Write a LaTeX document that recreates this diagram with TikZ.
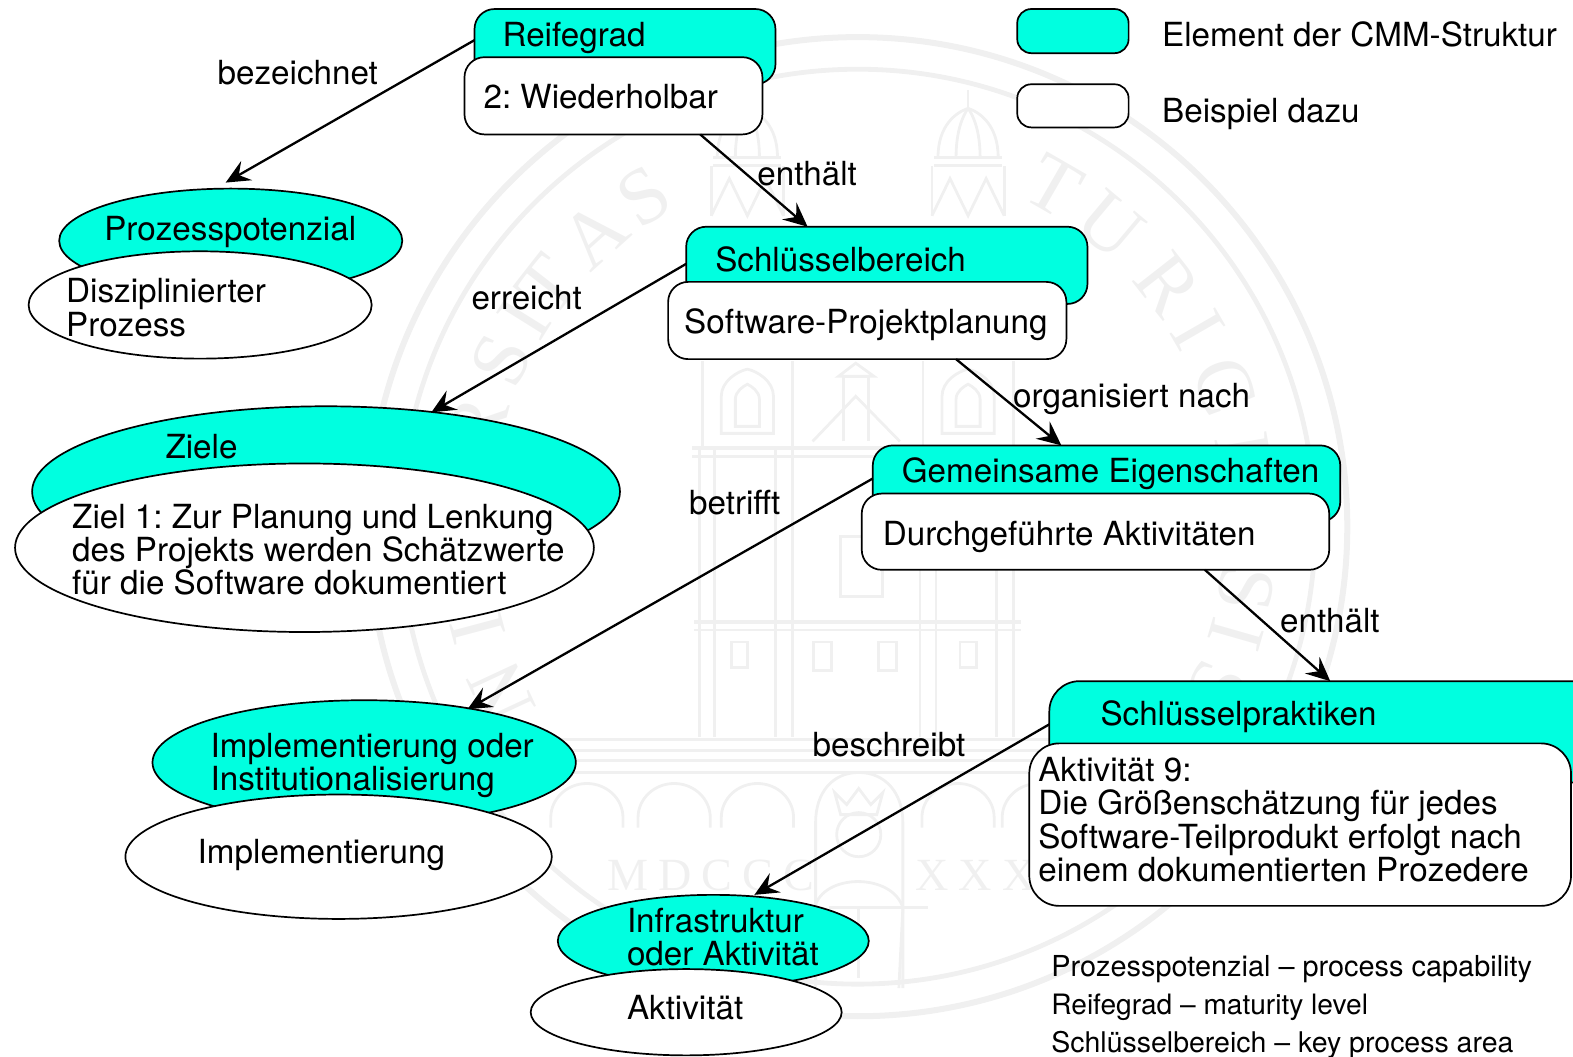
\documentclass[tikz,border=0pt]{standalone}
\usepackage{fontspec}
\setmainfont{TeX Gyre Heros}
\newfontfamily\wmserif{Liberation Serif}
\newfontfamily\wmspaced[LetterSpace=22]{Liberation Serif}
\usetikzlibrary{arrows.meta,calc,shapes.geometric}
\definecolor{cmmcyan}{HTML}{00FFE0}
\definecolor{wmgray}{HTML}{F0F0F0}
\frenchspacing
\tikzset{
  shapeline/.style={draw=black,line width=0.85pt,inner sep=0pt,outer sep=0pt},
  cmmbox/.style={shapeline,rectangle,rounded corners=10pt,fill=cmmcyan},
  examplebox/.style={shapeline,rectangle,rounded corners=10pt,fill=white},
  cmmoval/.style={shapeline,ellipse,fill=cmmcyan},
  exampleoval/.style={shapeline,ellipse,fill=white},
  txt/.style={anchor=base west,inner sep=0pt,outer sep=0pt,align=left,font=\fontsize{16.55}{16.65}\selectfont},
  smalltxt/.style={anchor=base west,inner sep=0pt,outer sep=0pt,font=\fontsize{14.4}{15}\selectfont},
  conn/.style={draw=black,line width=1.15pt,-{Stealth[length=12pt,width=11pt,inset=4.5pt]}},
  wm/.style={draw=wmgray,line width=2pt},
  wmthin/.style={draw=wmgray,line width=1.4pt},
  wmletter/.style={text=wmgray,inner sep=0pt,font=\wmserif\fontsize{40}{40}\selectfont},
}
\newcommand{\bx}[6]{\node[#6,minimum width={(#4-#2)*0.5pt},minimum height={(#5-#3)*0.5pt}] (#1) at ({(#2+#4)/2},{(#3+#5)/2}) {};}
\newcommand{\ov}[6]{\node[#6,minimum width={#4*1pt},minimum height={#5*1pt}] (#1) at (#2,#3) {};}
\begin{document}
\begin{tikzpicture}[x=0.5pt,y=-0.5pt]
\useasboundingbox (0,0) rectangle (1568,1053.6);
% ---------- watermark ----------
\coordinate (seal) at (855,525);
\draw[wm,line width=3pt] (seal) circle [radius=244pt];
\draw[wm,line width=2.4pt] (seal) circle [radius=228pt];
\foreach \ch/\ang/\idx in {U/217/1,N/205/2,I/195/3,V/186/4,E/175/5,R/165/6,S/155/7,I/148/8,T/142/9,A/132/10,S/123/11,
  T/60/12,U/50/13,R/38/14,I/30/15,C/21/16,E/10/17,N/0/18,S/-9/19,I/-16/20,S/-24/21}{
  \node[wmletter,rotate=\ang-90] (wml\idx) at ($(seal)+({392*cos(\ang)},{-392*sin(\ang)})$) {\ch};
}
% ground lines and arcade
\foreach \yy in {737,748,758,770}{\draw[wmthin] (480,\yy) -- (1230,\yy);}
\foreach \cx in {585,672,755,955,1035,1122}{
  \draw[wmthin] (\cx-36,825) -- (\cx-36,815) arc[start angle=180,end angle=0,x radius=36,y radius=-34] -- (\cx+36,825);
}
% niche and king
\draw[wmthin] (813,985) -- (813,820) .. controls (813,790) and (830,770) .. (856,770) .. controls (882,770) and (900,790) .. (900,820) -- (900,985);
\draw[wmthin] (832,790) -- (838,812) -- (874,812) -- (880,790) -- (868,802) -- (856,786) -- (844,802) -- cycle;
\draw[wmthin] (856,832) ellipse [x radius=22,y radius=22];
\draw[wmthin] (812,905) .. controls (820,870) and (890,870) .. (900,905) -- (896,985);
\draw[wmthin] (856,905) -- (856,975) (826,905) -- (925,905);
% lower body
\draw[wm] (692,620) -- (1018,620);
\draw[wmthin] (692,628) -- (1018,628);
\foreach \xx in {697,712,773,790,917,933,993,1010}{\draw[wmthin] (\xx,447) -- (\xx,735);}
\draw[wm] (690,447) -- (1015,447);
\draw[wmthin] (690,455) -- (1015,455);
% windows on the lower body
\foreach \xx in {737,965}{\draw[wmthin] (\xx-8,640) -- (\xx-8,665) -- (\xx+8,665) -- (\xx+8,640) -- cycle;}
\foreach \xx in {820,885}{\draw[wmthin] (\xx-9,640) -- (\xx-9,668) -- (\xx+9,668) -- (\xx+9,640) -- cycle;}
\draw[wmthin] (838,535) rectangle (880,595);
% central small tower and roof
\draw[wmthin] (810,440) -- (853,395) -- (897,440);
\draw[wmthin] (841,440) -- (841,375) -- (866,375) -- (866,440);
\draw[wmthin] (836,375) -- (853,362) -- (871,375) -- cycle;
% towers
\foreach \cx in {745,965}{
  \draw[wmthin] (\cx-45,447) -- (\cx-45,360) (\cx+45,447) -- (\cx+45,360);
  \draw[wmthin] (\cx-26,432) -- (\cx-26,395) .. controls (\cx-26,380) and (\cx-10,370) .. (\cx,368) .. controls (\cx+10,370) and (\cx+26,380) .. (\cx+26,395) -- (\cx+26,432) -- cycle;
  \draw[wmthin] (\cx-12,425) -- (\cx-12,398) .. controls (\cx-12,390) and (\cx-4,385) .. (\cx,383) .. controls (\cx+4,385) and (\cx+12,390) .. (\cx+12,398) -- (\cx+12,425) -- cycle;
  \draw[wmthin] (\cx-36,215) -- (\cx-36,165) (\cx+36,215) -- (\cx+36,165);
  \draw[wmthin] (\cx-36,215) -- (\cx-18,178) -- (\cx,215) -- (\cx+18,178) -- (\cx+36,215);
  \draw[wmthin] (\cx-34,165) -- (\cx+34,165) (\cx-34,157) -- (\cx+34,157);
  \draw[wmthin] (\cx-30,157) .. controls (\cx-30,125) and (\cx-12,112) .. (\cx,108) .. controls (\cx+12,112) and (\cx+30,125) .. (\cx+30,157);
  \draw[wmthin] (\cx,108) -- (\cx,90);
  \draw[wmthin] (\cx-12,157) .. controls (\cx-12,130) and (\cx-5,115) .. (\cx,108) .. controls (\cx+5,115) and (\cx+12,130) .. (\cx+12,157);
}
\node[anchor=base west,inner sep=0pt,text=wmgray,font=\wmspaced\fontsize{23}{23}\selectfont] (wmyearA) at (605,888) {MDCCC};
\node[anchor=base west,inner sep=0pt,text=wmgray,font=\wmspaced\fontsize{23}{23}\selectfont] (wmyearB) at (912,888) {XXXIII};
% ---------- legend ----------
\bx{legA}{1014}{9}{1125}{53}{cmmbox,rounded corners=7pt}
\bx{legB}{1014}{84}{1125}{127}{examplebox,rounded corners=7pt}
\node[txt] (legAt) at (1158.5,46) {Element der CMM-Struktur};
\node[txt] (legBt) at (1158.5,122) {Beispiel dazu};
% ---------- shapes ----------
\bx{reif}{473}{9}{773}{84}{cmmbox}
\bx{wied}{463}{57}{760}{134}{examplebox}
\ov{pot}{230}{240}{171}{52}{cmmoval}
\ov{dis}{199.5}{304}{171}{53.5}{exampleoval}
\bx{schl}{684}{226}{1084}{303}{cmmbox}
\bx{swp}{666}{281}{1063}{358}{examplebox}
\ov{ziele}{325}{490}{293}{85}{cmmoval}
\ov{ziel}{303.5}{546}{288.5}{84}{exampleoval}
\bx{gem}{870}{444}{1336}{520}{cmmbox}
\bx{durch}{859}{492}{1325}{568}{examplebox}
\ov{impl}{363}{760}{211}{62}{cmmoval}
\ov{imp}{337.5}{854}{212.5}{62}{exampleoval}
\bx{prak}{1046}{679}{1600}{780}{cmmbox,rounded corners=15pt}
\bx{akt}{1026}{741}{1566}{903}{examplebox,rounded corners=15pt}
\ov{infra}{711}{938}{155}{46}{cmmoval}
\ov{aktiv}{684}{1009}{155}{43}{exampleoval}
% ---------- shape texts ----------
\node[txt] (reift) at (501,46) {Reifegrad};
\node[txt] (wiedt) at (482,108) {2: Wiederholbar};
\node[txt] (pott) at (104,240) {Prozesspotenzial};
\node[txt] (dist) at (66,335) {Disziplinierter\\Prozess};
\node[txt] (zielet) at (165,457) {Ziele};
\node[txt] (zielt) at (72,593) {Ziel 1: Zur Planung und Lenkung\\des Projekts werden Schätzwerte\\für die Software dokumentiert};
\node[txt] (schlt) at (713,271) {Schlüsselbereich};
\node[txt] (swpt) at (682,332) {Software-Projektplanung};
\node[txt] (gemt) at (899,481) {Gemeinsame Eigenschaften};
\node[txt] (durcht) at (880,544) {Durchgeführte Aktivitäten};
\node[txt] (implt) at (210,788) {Implementierung oder\\Institutionalisierung};
\node[txt] (impt) at (197,861) {Implementierung};
\node[txt] (prakt) at (1097,723) {Schlüsselpraktiken};
\node[txt] (aktt) at (1035,879) {Aktivität 9:\\Die Größenschätzung für jedes\\Software-Teilprodukt erfolgt nach\\einem dokumentierten Prozedere};
\node[txt] (infrat) at (625,962.5) {Infrastruktur\\oder Aktivität};
\node[txt] (aktivt) at (625,1016) {Aktivität};
% ---------- connectors ----------
\draw[conn] ($(reif.west)+(0,-6.5)$) -- ($(pot.north)+(-5,-6)$);
\draw[conn] ($(wied.south)+(86.5,0)$) -- ($(schl.north)+(-79,0)$);
\draw[conn] ($(schl.west)+(0,-1.5)$) -- ($(ziele.north)+(105,6)$);
\draw[conn] ($(swp.south)+(88.5,0)$) -- ($(gem.north)+(-45,0)$);
\draw[conn] ($(gem.west)+(0,-5)$) -- ($(impl.north)+(103,9)$);
\draw[conn] ($(durch.south)+(109,0)$) -- ($(prak.north)+(3,0)$);
\draw[conn] ($(prak.west)+(0,-7.5)$) -- ($(infra.north)+(41,0)$);
% ---------- connector labels ----------
\node[txt] (l1) at (217,84) {bezeichnet};
\node[txt] (l2) at (755,185) {enthält};
\node[txt] (l3) at (470,308.5) {erreicht};
\node[txt] (l4) at (1010,406) {organisiert nach};
\node[txt] (l5) at (687,512.5) {betrifft};
\node[txt] (l6) at (1276,630) {enthält};
\node[txt] (l7) at (810,754) {beschreibt};
% ---------- glossary ----------
\node[smalltxt] (g1) at (1048,973) {Prozesspotenzial – process capability};
\node[smalltxt,font=\fontsize{14.0}{15}\selectfont] (g2) at (1048,1011) {Reifegrad – maturity level};
\node[smalltxt,font=\fontsize{14.2}{15}\selectfont] (g3) at (1048,1049) {Schlüsselbereich – key process area};
\end{tikzpicture}
\end{document}
